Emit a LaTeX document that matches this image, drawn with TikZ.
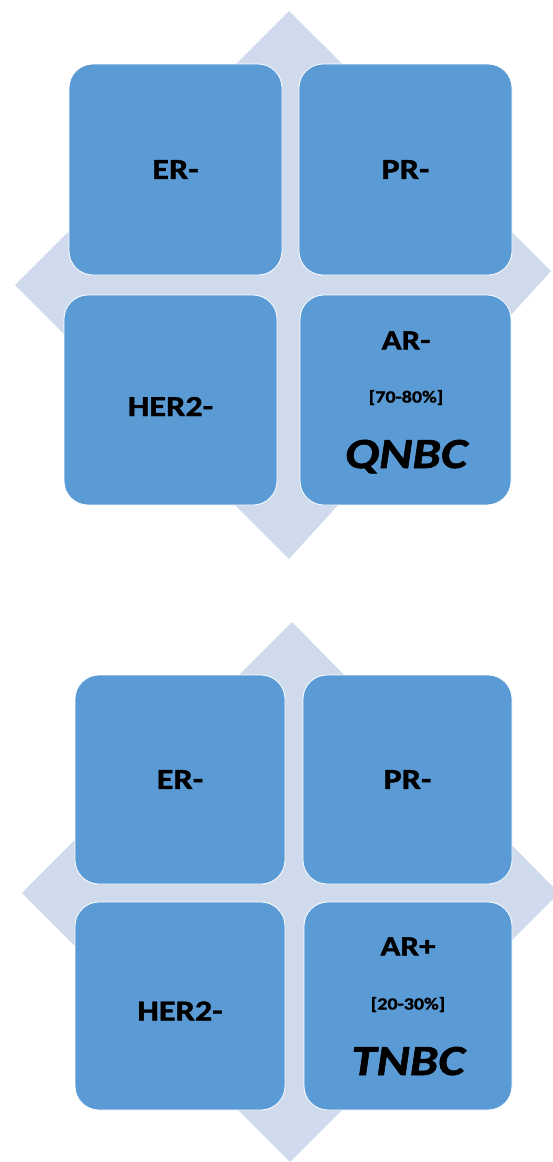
\documentclass[tikz,border=0pt]{standalone}
\usepackage{fontspec}
\setmainfont{Carlito}[FakeStretch=1.18, BoldFeatures={FakeBold=1.3}, BoldItalicFeatures={FakeBold=1.3}]
\definecolor{cellblue}{RGB}{91,155,213}
\definecolor{backblue}{RGB}{207,219,237}
\tikzset{
cell/.style={rectangle, rounded corners=24pt, fill=cellblue, draw=white, line width=0.8pt, inner sep=0pt, font=\fontsize{29}{34}\selectfont\bfseries},
arlab/.style={anchor=base, inner sep=0pt, font=\fontsize{28}{33}\selectfont\bfseries},
pct/.style={anchor=base, inner sep=0pt, font=\fontsize{17}{20}\selectfont\bfseries},
kind/.style={anchor=base, inner sep=0pt, font=\fontsize{43}{50}\selectfont\bfseries\itshape}
}
\begin{document}
\begin{tikzpicture}[x=1pt,y=-1pt]
\useasboundingbox (0,0) rectangle (552,1162);
\fill[backblue] (289,11) -- (551,271) -- (289,559) -- (15,285) -- cycle;
\node[cell, minimum width=213pt, minimum height=211pt] (er1) at (175.5,169.5) {ER-};
\node[cell, minimum width=213pt, minimum height=211pt] (pr1) at (405.5,169.5) {PR-};
\node[cell, minimum width=213pt, minimum height=210pt, text height=32pt] (her1) at (170.5,400) {HER2-};
\node[cell, minimum width=211pt, minimum height=210pt] (ar1) at (405.5,400) {};
\node[arlab] (arname1) at (406,349.5) {AR-};
\node[pct] (arpct1) at (406,402.5) {[70-80\%]};
\node[kind] (artype1) at (406,468) {QNBC};
\fill[backblue] (292,622) -- (559,893) -- (290,1162) -- (22,893) -- cycle;
\node[cell, minimum width=210pt, minimum height=209pt] (er2) at (180,779.5) {ER-};
\node[cell, minimum width=209pt, minimum height=209pt] (pr2) at (407.5,779.5) {PR-};
\node[cell, minimum width=210pt, minimum height=208pt, text height=29pt] (her2) at (180,1006) {HER2-};
\node[cell, minimum width=208pt, minimum height=208pt] (ar2) at (408,1006) {};
\node[arlab] (arname2) at (408,955.5) {AR+};
\node[pct] (arpct2) at (408,1009.5) {[20-30\%]};
\node[kind] (artype2) at (408,1075) {TNBC};
\end{tikzpicture}
\end{document}
